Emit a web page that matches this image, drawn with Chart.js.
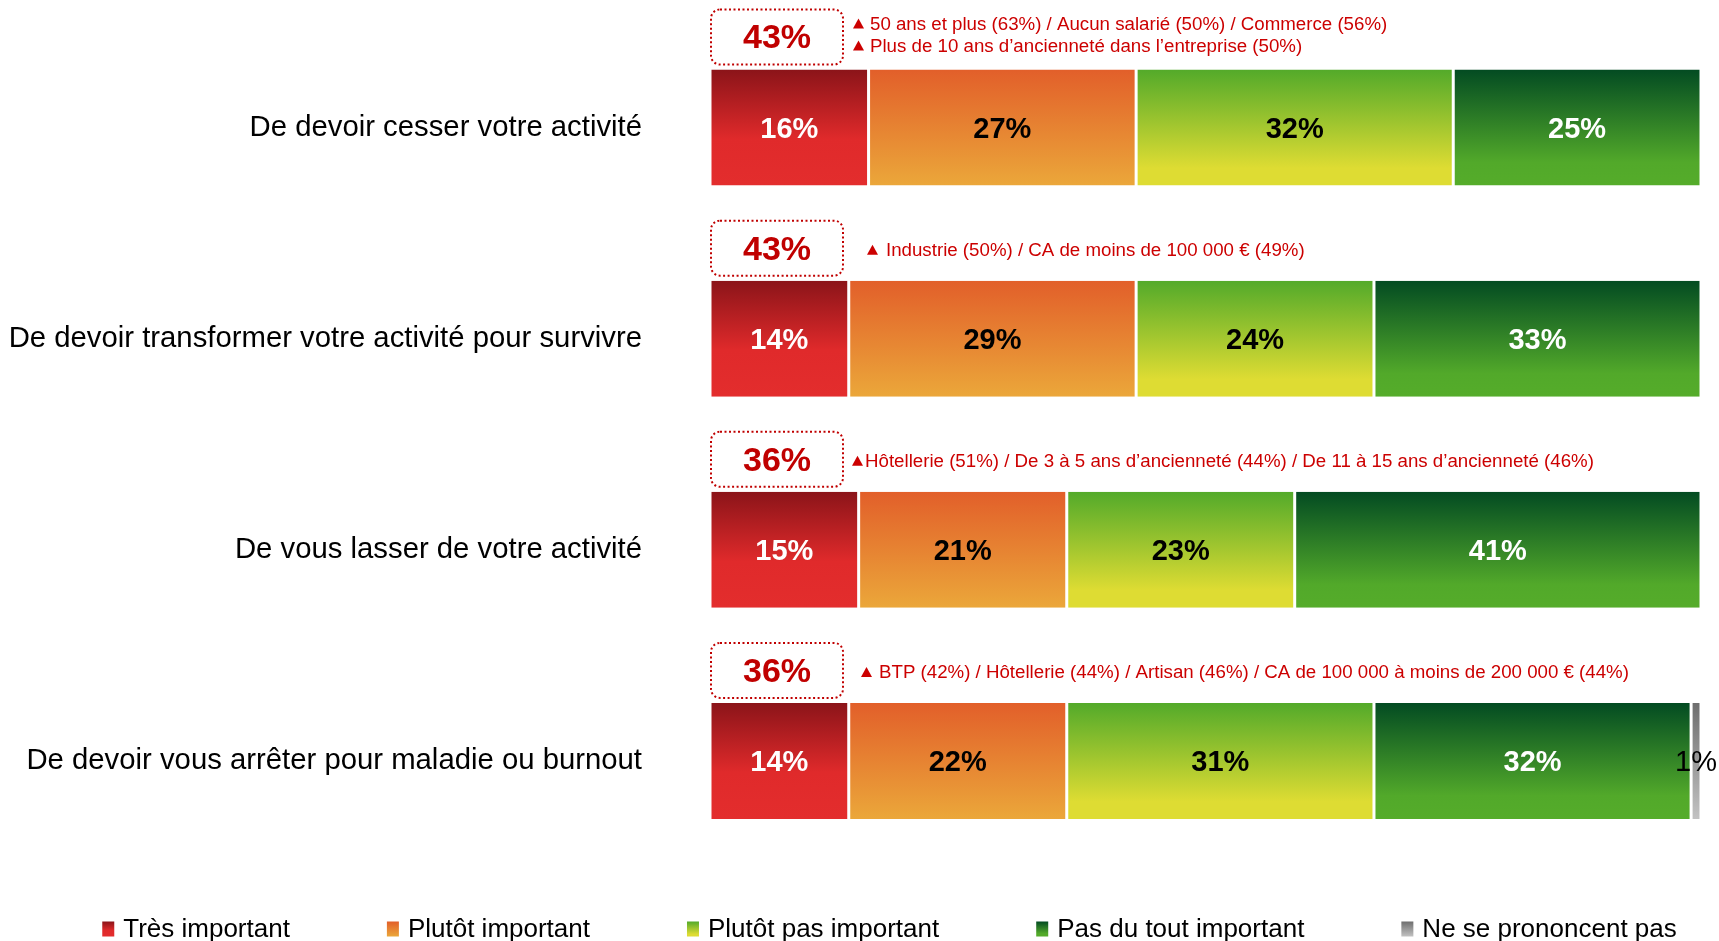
<!DOCTYPE html>
<html><head><meta charset="utf-8">
<script src="https://cdn.jsdelivr.net/npm/chart.js@4.4.0/dist/chart.umd.min.js"></script>
<style>html,body{margin:0;padding:0;background:#fff}#wrap{position:relative;width:1719px;height:941px}</style>
</head><body><div id="wrap"><canvas id="c"></canvas></div>
<script>
const categories = [
  'De devoir cesser votre activité',
  'De devoir transformer votre activité pour survivre',
  'De vous lasser de votre activité',
  'De devoir vous arrêter pour maladie ou burnout'
];
const seriesNames = ['Très important','Plutôt important','Plutôt pas important','Pas du tout important','Ne se prononcent pas'];
const tresImportant   = [16, 14, 15, 14];
const plutotImportant = [27, 29, 21, 22];
const plutotPas       = [32, 24, 23, 31];
const pasDuTout       = [25, 33, 41, 32];
const nePrononcentPas = [0, 0, 0, 1];
const totalImportant  = [43, 43, 36, 36];
const notes = [
  ['50 ans et plus (63%) / Aucun salarié (50%) / Commerce (56%)', 'Plus de 10 ans d’ancienneté dans l’entreprise (50%)'],
  ['Industrie (50%) / CA de moins de 100 000 € (49%)'],
  ['Hôtellerie (51%) / De 3 à 5 ans d’ancienneté (44%) / De 11 à 15 ans d’ancienneté (46%)'],
  ['BTP (42%) / Hôtellerie (44%) / Artisan (46%) / CA de 100 000 à moins de 200 000 € (44%)']
];

// styles
const FONT = '"Liberation Sans", Arial, Helvetica, sans-serif';
const gradStops = [
  [[0,'#8B1419'],[0.6,'#E02A2B'],[1,'#E32D2D']],
  [[0,'#E25F2A'],[1,'#EBA73A']],
  [[0,'#53AA2A'],[0.85,'#DEDC33'],[1,'#DEDC33']],
  [[0,'#034B22'],[0.8,'#52A92A'],[1,'#55AC2A']],
  [[0,'#6E6E6E'],[1,'#C2C2C2']]
];
const labelColors = ['#ffffff','#000000','#000000','#ffffff','#000000'];
const labelBold = [true,true,true,true,false];
const noteTriOffset = [11, 25, 10, 19];
const noteTextGap = [17, 19, 13, 18];
const BAR_PCT = 0.55;

function grad(stops){
  return (c) => {
    const chart = c.chart; const ys = chart.scales && chart.scales.y;
    if (c.type !== 'data' || !ys || !chart.chartArea) return stops[0][1];
    const yc = ys.getPixelForValue(c.dataIndex);
    const h = (ys.bottom - ys.top) / categories.length * BAR_PCT;
    if (!isFinite(yc) || !isFinite(h)) return stops[0][1];
    const g = chart.ctx.createLinearGradient(0, yc - h/2, 0, yc + h/2);
    stops.forEach(([o,col]) => g.addColorStop(o,col));
    return g;
  };
}

const seriesData = [tresImportant, plutotImportant, plutotPas, pasDuTout, nePrononcentPas];
const datasets = seriesData.map((d, i) => ({
  label: seriesNames[i],
  data: d,
  backgroundColor: grad(gradStops[i]),
  borderColor: '#ffffff',
  borderWidth: {left:1.5, right:1.5, top:0, bottom:0},
  borderSkipped: false,
  barPercentage: BAR_PCT,
  categoryPercentage: 1
}));

const valueLabels = {
  id: 'valueLabels',
  afterDatasetsDraw(chart){
    const ctx = chart.ctx;
    chart.data.datasets.forEach((ds, di) => {
      const meta = chart.getDatasetMeta(di);
      meta.data.forEach((el, i) => {
        const v = ds.data[i];
        if (!v) return;
        const cx = (el.x + el.base) / 2;
        ctx.save();
        ctx.font = (labelBold[di] ? 'bold ' : '') + '29px ' + FONT;
        ctx.fillStyle = labelColors[di];
        ctx.textAlign = 'center'; ctx.textBaseline = 'middle';
        ctx.fillText(v + '%', cx, el.y + 2);
        ctx.restore();
      });
    });
  }
};

const topBoxes = {
  id: 'topBoxes',
  afterDatasetsDraw(chart){
    const ctx = chart.ctx;
    const meta = chart.getDatasetMeta(0);
    const x0 = chart.scales.x.getPixelForValue(0);
    meta.data.forEach((el, i) => {
      const top = el.y - el.height / 2;
      const bw = 132, bh = 55;
      const bx = x0, by = top - 60;
      ctx.save();
      ctx.beginPath();
      ctx.roundRect(bx + 1, by, bw, bh, 9);
      ctx.fillStyle = '#ffffff'; ctx.fill();
      ctx.setLineDash([2, 2.5]); ctx.lineWidth = 2; ctx.strokeStyle = '#C00000'; ctx.stroke();
      ctx.setLineDash([]);
      ctx.font = 'bold 34px ' + FONT;
      ctx.fillStyle = '#C00000'; ctx.textAlign = 'center'; ctx.textBaseline = 'middle';
      ctx.fillText(totalImportant[i] + '%', bx + bw/2 + 1, by + bh/2 + 2);
      const lines = notes[i];
      const ys = lines.length === 1 ? [top - 31] : [top - 46, top - 24];
      ctx.font = '18.7px ' + FONT; ctx.textAlign = 'left'; ctx.fillStyle = '#CC0000';
      lines.forEach((t, k) => {
        const ty = ys[k];
        const tx = bx + bw + noteTriOffset[i];
        ctx.beginPath(); ctx.moveTo(tx, ty + 5); ctx.lineTo(tx + 11, ty + 5); ctx.lineTo(tx + 5.5, ty - 5); ctx.closePath(); ctx.fill();
        ctx.fillText(t, tx + noteTextGap[i], ty + 1);
      });
      ctx.restore();
    });
  }
};

const bottomLegend = {
  id: 'bottomLegend',
  afterDraw(chart){
    const ctx = chart.ctx;
    ctx.save();
    ctx.font = '26px ' + FONT;
    const sqW = 12, sqH = 15, gap = 9, pad = 97;
    const widths = seriesNames.map(n => sqW + gap + ctx.measureText(n).width);
    const total = widths.reduce((a,b) => a+b, 0) + pad * (widths.length - 1);
    let x = chart.width / 2 + 30 - total / 2;
    const cy = 929;
    seriesNames.forEach((n, i) => {
      const g = ctx.createLinearGradient(0, cy - sqH/2, 0, cy + sqH/2);
      gradStops[i].forEach(([o,col]) => g.addColorStop(o,col));
      ctx.fillStyle = g;
      ctx.fillRect(x, cy - sqH/2, sqW, sqH);
      ctx.fillStyle = '#000000'; ctx.textAlign = 'left'; ctx.textBaseline = 'middle';
      ctx.fillText(n, x + sqW + gap, cy + 1);
      x += widths[i] + pad;
    });
    ctx.restore();
  }
};

new Chart(document.getElementById('c'), {
  type: 'bar',
  data: { labels: categories, datasets },
  options: {
    indexAxis: 'y',
    responsive: true,
    maintainAspectRatio: false,
    animation: false,
    layout: { padding: { top: 22, right: 18, bottom: 74.5, left: 0 } },
    scales: {
      x: { stacked: true, min: 0, max: 100, display: false },
      y: {
        stacked: true,
        grid: { display: false, drawTicks: true, tickLength: 68 },
        border: { display: false },
        ticks: { color: '#000000', font: { family: FONT, size: 29.3 }, padding: 0 },
        afterFit(scale){ scale.width = 710; }
      }
    },
    plugins: { legend: { display: false }, tooltip: { enabled: false } }
  },
  plugins: [valueLabels, topBoxes, bottomLegend]
});
</script></body></html>
